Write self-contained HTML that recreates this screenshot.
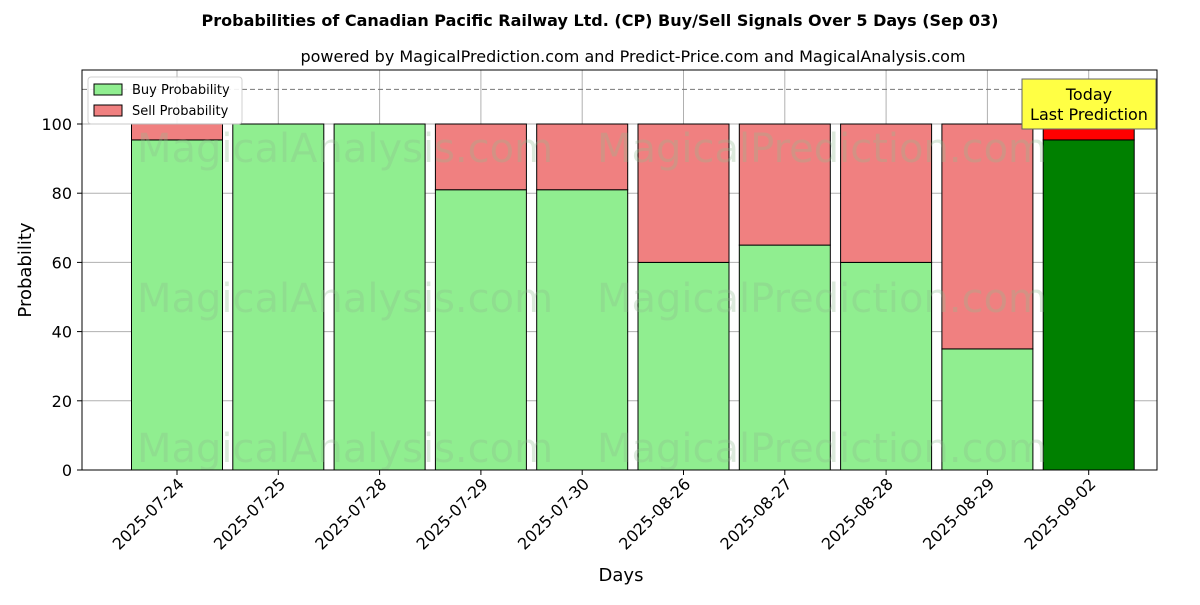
<!DOCTYPE html>
<html><head><meta charset="utf-8"><style>body{margin:0;background:#fff}svg{font-family:"DejaVu Sans","Liberation Sans",sans-serif}</style></head>
<body>
<svg id="chart" width="1200" height="600" viewBox="0 0 1200 600">
<text x="600" y="26" text-anchor="middle" font-size="16" font-weight="bold">Probabilities of Canadian Pacific Railway Ltd. (CP) Buy/Sell Signals Over 5 Days (Sep 03)</text>
<text x="633" y="62" text-anchor="middle" font-size="16">powered by MagicalPrediction.com and Predict-Price.com and MagicalAnalysis.com</text>
<g id="grid"></g>
<g id="bars"></g>
<g id="wm" font-size="40" fill="#8fbc8f" opacity="0.3">
<text x="345" y="162" text-anchor="middle">MagicalAnalysis.com</text>
<text x="822" y="162" text-anchor="middle">MagicalPrediction.com</text>
<text x="345" y="312" text-anchor="middle">MagicalAnalysis.com</text>
<text x="822" y="312" text-anchor="middle">MagicalPrediction.com</text>
<text x="345" y="462" text-anchor="middle">MagicalAnalysis.com</text>
<text x="822" y="462" text-anchor="middle">MagicalPrediction.com</text>
</g>
<line x1="82" x2="1157" y1="89.4" y2="89.4" stroke="#777" stroke-dasharray="5,3"/>
<rect x="82" y="70" width="1075" height="400" fill="none" stroke="#000"/>
<g id="axes" font-size="16"></g>
<text x="621" y="581" text-anchor="middle" font-size="18">Days</text>
<text transform="translate(31,270) rotate(-90)" text-anchor="middle" font-size="18">Probability</text>
<g>
<rect x="1022" y="79" width="134" height="50" fill="#ffff44" stroke="#666"/>
<text x="1089" y="100" text-anchor="middle" font-size="16">Today</text>
<text x="1089" y="120" text-anchor="middle" font-size="16">Last Prediction</text>
</g>
<g>
<rect x="88" y="77" width="154" height="47" fill="#fff" stroke="#ccc" rx="3" opacity="0.9"/>
<rect x="94" y="84" width="28" height="11" fill="#90ee90" stroke="#000"/>
<text x="132" y="94" font-size="13">Buy Probability</text>
<rect x="94" y="105" width="28" height="11" fill="#f08080" stroke="#000"/>
<text x="132" y="115" font-size="13">Sell Probability</text>
</g>
</svg>
<script>
const categories=["2025-07-24","2025-07-25","2025-07-28","2025-07-29","2025-07-30","2025-08-26","2025-08-27","2025-08-28","2025-08-29","2025-09-02"];
const buyValues=[95.4,100,100,81,81,60,65,60,35,95.4];
const sellValues=[4.6,0,0,19,19,40,35,40,65,4.6];
const yTicks=[0,20,40,60,80,100];
const NS="http://www.w3.org/2000/svg";
const x=i=>177+i*101.3, y=v=>470-v*3.46, bw=91;
function mk(t,a,p){const e=document.createElementNS(NS,t);for(const k in a)e.setAttribute(k,a[k]);p.appendChild(e);return e;}
const grid=document.getElementById('grid'),bars=document.getElementById('bars'),axes=document.getElementById('axes');
yTicks.forEach(v=>{
 const g=mk('line',{x1:82,x2:1157,y1:y(v),y2:y(v),stroke:'#b0b0b0'},grid);
 
 mk('line',{x1:77,x2:82,y1:y(v),y2:y(v),stroke:'#000'},axes);
 const t=mk('text',{x:72,y:y(v)+6,'text-anchor':'end'},axes);t.textContent=v;
 
});
categories.forEach((c,i)=>{
 const g=mk('line',{x1:x(i),x2:x(i),y1:70,y2:470,stroke:'#b0b0b0'},grid);
 
 const last=i===categories.length-1;
 const b=mk('rect',{x:x(i)-bw/2,y:y(buyValues[i]),width:bw,height:y(0)-y(buyValues[i]),fill:last?'#008000':'#90ee90',stroke:'#000'},bars);
 
 const s=mk('rect',{x:x(i)-bw/2,y:y(buyValues[i]+sellValues[i]),width:bw,height:y(buyValues[i])-y(buyValues[i]+sellValues[i]),fill:last?'#ff0000':'#f08080',stroke:'#000'},bars);
 
 mk('line',{x1:x(i),x2:x(i),y1:470,y2:475,stroke:'#000'},axes);
 const t=mk('text',{x:x(i)+8,y:485,'text-anchor':'end',transform:`rotate(-45 ${x(i)+8} 485)`},axes);t.textContent=c;
 
});
</script>
</body></html>
